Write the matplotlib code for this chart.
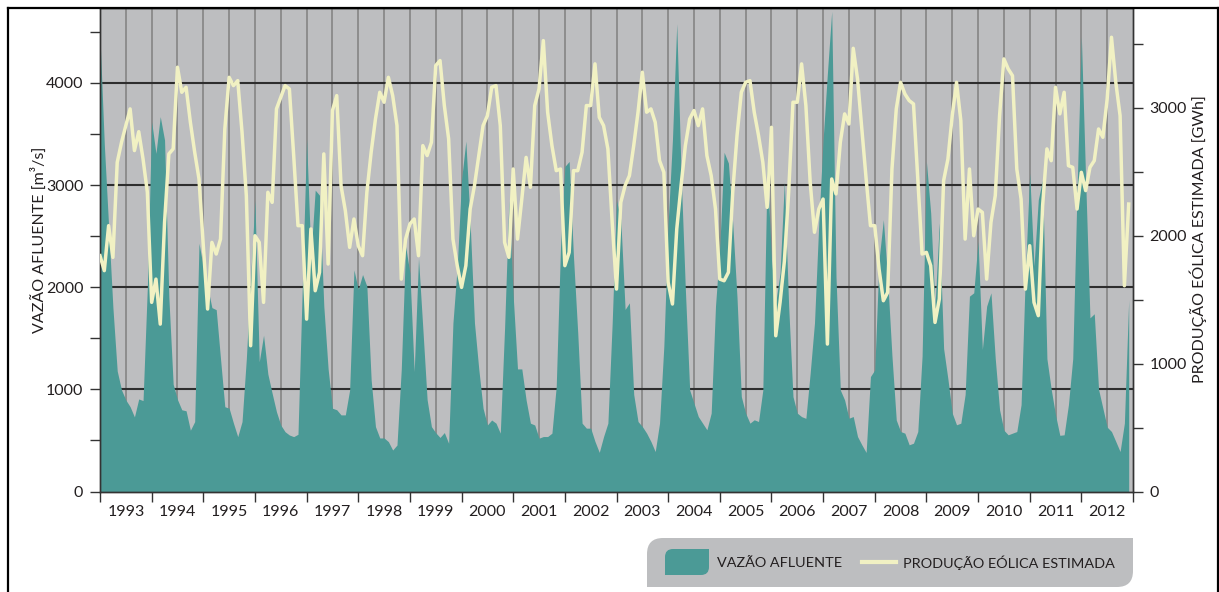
import numpy as np
import matplotlib.pyplot as plt
from matplotlib.path import Path
from matplotlib.patches import PathPatch
from matplotlib.lines import Line2D

plt.rcParams['font.family'] = ['Lato', 'DejaVu Sans']

anos = list(range(1993, 2013))

# vazão afluente média mensal [m³/s], jan/1993 a dez/2012
vazao = [
    4450, 3400, 2600, 1800, 1180, 994, 896, 830, 730, 906, 890, 2000,
    3620, 3310, 3670, 3440, 1900, 1050, 900, 800, 790, 600, 684, 2430,
    2200, 2000, 1800, 1780, 1300, 830, 815, 670, 537, 684, 1300, 2100,
    2850, 1270, 1530, 1150, 960, 780, 650, 585, 553, 537, 560, 2000,
    3450, 2300, 2950, 2900, 1814, 1200, 815, 800, 750, 750, 994, 2170,
    1977, 2124, 2010, 1092, 635, 524, 524, 488, 406, 455, 1200, 2400,
    2140, 1173, 2284, 1600, 900, 635, 575, 529, 577, 472, 1650, 2205,
    3052, 3430, 2629, 1651, 1200, 815, 651, 700, 669, 571, 1600, 2850,
    1912, 1200, 1200, 896, 669, 651, 522, 538, 538, 571, 1030, 2400,
    3182, 3231, 2303, 1550, 669, 620, 620, 490, 383, 538, 669, 1650,
    2850, 2661, 1782, 1847, 950, 685, 636, 571, 489, 391, 669, 1423,
    2629, 3443, 4580, 3117, 1977, 994, 864, 734, 669, 604, 767, 1814,
    2400, 3320, 3215, 2629, 1900, 929, 767, 669, 702, 685, 994, 3180,
    2270, 1850, 2140, 3030, 1814, 929, 767, 733, 716, 1160, 1650, 2629,
    3443, 4094, 4700, 2100, 994, 896, 717, 734, 538, 457, 382, 1125,
    1190, 2270, 2661, 2075, 1326, 700, 587, 571, 457, 473, 587, 1326,
    3230, 2726, 1814, 2630, 1400, 1100, 767, 653, 669, 950, 1912, 1945,
    2450, 1391, 1814, 1945, 1300, 800, 600, 555, 571, 587, 850, 2140,
    3117, 2205, 2857, 3052, 1300, 1000, 750, 550, 555, 850, 1300, 2954,
    4454, 3052, 1700, 1740, 1000, 815, 630, 587, 490, 391, 669, 1875,
]

# produção eólica estimada [GWh], jan/1993 a dez/2012
eolica = [
    1844, 1727, 2079, 1831, 2574, 2731, 2861, 2992, 2666, 2814, 2600, 2340,
    1479, 1661, 1309, 2105, 2640, 2679, 3318, 3122, 3161, 2887, 2653, 2444,
    1922, 1427, 1948, 1857, 1974, 2835, 3239, 3174, 3213, 2809, 2313, 1140,
    2000, 1948, 1479, 2340, 2261, 2992, 3083, 3174, 3148, 2627, 2079, 2079,
    1348, 2053, 1570, 1714, 2640, 1779, 2979, 3096, 2392, 2196, 1909, 2131,
    1922, 1844, 2340, 2653, 2913, 3122, 3044, 3239, 3096, 2861, 1661, 1974,
    2092, 2131, 1844, 2705, 2627, 2731, 3331, 3370, 3018, 2757, 1974, 1766,
    1596, 1766, 2209, 2392, 2627, 2861, 2939, 3161, 3174, 2861, 1948, 1831,
    2522, 1974, 2287, 2613, 2379, 3018, 3148, 3526, 2966, 2705, 2509, 2522,
    1766, 1870, 2509, 2509, 2653, 3018, 3018, 3344, 2926, 2861, 2679, 2105,
    1583, 2261, 2392, 2470, 2705, 2966, 3279, 2966, 2992, 2887, 2587, 2496,
    1635, 1466, 2053, 2392, 2705, 2913, 2979, 2861, 2992, 2627, 2470, 2209,
    1661, 1648, 1714, 2340, 2783, 3122, 3200, 3213, 2966, 2783, 2574, 2222,
    2848, 1218, 1479, 1800, 2340, 3044, 3044, 3344, 3018, 2418, 2027, 2209,
    2287, 1153, 2444, 2327, 2731, 2953, 2874, 3466, 3226, 2835, 2444, 2079,
    2079, 1740, 1492, 1557, 2522, 2992, 3200, 3109, 3057, 3031, 2444, 1857,
    1870, 1766, 1322, 1505, 2431, 2600, 2939, 3200, 2900, 1974, 2522, 2000,
    2209, 2183, 1661, 2105, 2314, 2939, 3383, 3305, 3252, 2522, 2287, 1583,
    1922, 1479, 1375, 2235, 2679, 2587, 3161, 2953, 3122, 2548, 2535, 2209,
    2496, 2353, 2535, 2587, 2835, 2770, 3070, 3552, 3200, 2939, 1609, 2248,
]

fundo = '#bdbec0'
verde = '#4b9a96'
amarelo = '#f1f1c3'
texto = '#231f20'

t = anos[0] + np.arange(len(vazao)) / 12.0

W, H = 1219, 592
fig = plt.figure(figsize=(W / 100, H / 100), dpi=100)
ax = fig.add_axes([100 / W, 1 - 491.5 / H, 1033 / W, 483.5 / H])
ax.set_facecolor(fundo)

# grade: linhas verticais a cada semestre, horizontais a cada 1000 m³/s
for k in range(1, 2 * len(anos)):
    ax.axvline(anos[0] + k / 2, color='#858585', lw=1.2, zorder=1)
for v in range(1000, 5000, 1000):
    ax.axhline(v, color='#2e2e2e', lw=1.5, zorder=1)

ax.fill_between(t, 0, vazao, color=verde, lw=0, zorder=2)
ax.set_xlim(anos[0], anos[-1] + 1)
ax.set_ylim(0, 4733)

ax.set_xticks(range(anos[0], anos[-1] + 2))
ax.set_xticklabels([])
ax.set_xticks([a + 0.5 for a in anos], minor=True)
ax.set_xticklabels([str(a) for a in anos], minor=True)
ax.tick_params(axis='x', which='major', length=7, width=1, color='#333333')
ax.tick_params(axis='x', which='minor', length=0, pad=10, labelsize=11.5,
               labelcolor=texto)

ax.set_yticks(range(0, 5000, 1000))
ax.set_yticks(range(500, 5000, 1000), minor=True)
ax.tick_params(axis='y', which='both', length=7, width=1, color='#333333',
               labelsize=11.5, labelcolor=texto, pad=5)

ax2 = ax.twinx()
ax2.plot(t, eolica, color=amarelo, lw=2.5, solid_joinstyle='round', zorder=3)
ax2.set_ylim(0, 3781)
ax2.set_yticks(range(0, 4000, 1000))
ax2.set_yticks(range(500, 4000, 1000), minor=True)
ax2.tick_params(axis='y', which='both', length=7, width=1, color='#333333',
                labelsize=11.5, labelcolor=texto, pad=5)

for a in (ax, ax2):
    for s in a.spines.values():
        s.set_color('#333333')
        s.set_linewidth(1)

fig.text(38.5 / W, 1 - 240 / H, 'VAZÃO AFLUENTE [m³/s]', rotation=90,
         ha='center', va='center', fontsize=11.5, color=texto)
fig.text(1198 / W, 1 - 239 / H, 'PRODUÇÃO EÓLICA ESTIMADA [GWh]', rotation=90,
         ha='center', va='center', fontsize=11.5, color=texto)


def caixa(x0, y0, x1, y1, r):
    # retângulo com cantos arredondados em cima à esquerda e embaixo à direita
    pts = [(x0, y1), (x0, y0 + r), (x0, y0), (x0 + r, y0), (x1, y0),
           (x1, y1 - r), (x1, y1), (x1 - r, y1), (x0, y1), (x0, y1)]
    codes = [Path.MOVETO, Path.LINETO, Path.CURVE3, Path.CURVE3, Path.LINETO,
             Path.LINETO, Path.CURVE3, Path.CURVE3, Path.LINETO, Path.CLOSEPOLY]
    pts = [(x / W, 1 - y / H) for x, y in pts]
    return Path(pts, codes)


fig.patches.append(PathPatch(caixa(647, 538, 1133, 587, 16), facecolor=fundo,
                             edgecolor='none', transform=fig.transFigure))
fig.patches.append(PathPatch(caixa(665, 549, 709, 575, 8), facecolor=verde,
                             edgecolor='none', transform=fig.transFigure))
fig.text(717 / W, 1 - 563 / H, 'VAZÃO AFLUENTE', ha='left', va='center',
         fontsize=10.4, color=texto)
fig.add_artist(Line2D([862 / W, 896 / W], [1 - 562 / H, 1 - 562 / H],
                      color=amarelo, lw=3, transform=fig.transFigure))
fig.text(903 / W, 1 - 563 / H, 'PRODUÇÃO EÓLICA ESTIMADA', ha='left',
         va='center', fontsize=10.4, color=texto)

# moldura externa
borda = dict(color='black', lw=1.6, transform=fig.transFigure)
fig.add_artist(Line2D([8 / W, 8 / W], [0, 1 - 8 / H], **borda))
fig.add_artist(Line2D([8 / W, 1217.5 / W], [1 - 8 / H, 1 - 8 / H], **borda))
fig.add_artist(Line2D([1217.5 / W, 1217.5 / W], [0, 1 - 8 / H], **borda))

fig.savefig('out.png', dpi=100, facecolor='white')
